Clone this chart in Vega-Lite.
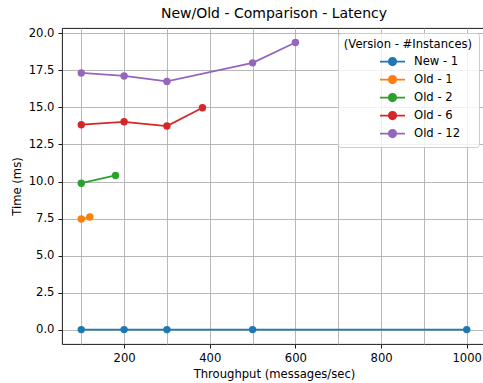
{
  "$schema": "https://vega.github.io/schema/vega-lite/v6.json",
  "width": 424,
  "height": 316,
  "autosize": {"type": "none"},
  "padding": {"left": 62, "top": 28, "right": 0, "bottom": 39},
  "config": {
    "font": "DejaVu Sans",
    "view": {"stroke": "black", "strokeWidth": 0.9},
    "axis": {
      "domain": false,
      "gridColor": "#b0b0b0",
      "gridWidth": 0.9,
      "gridOpacity": 1,
      "tickColor": "black",
      "tickSize": 4,
      "tickWidth": 0.9,
      "labelFontSize": 11.6,
      "labelColor": "black",
      "labelPadding": 4,
      "titleFontSize": 11.6,
      "titleFontWeight": "normal",
      "titleColor": "black"
    }
  },
  "title": {
    "text": "New/Old - Comparison - Latency",
    "fontSize": 14,
    "fontWeight": "normal",
    "color": "black",
    "anchor": "middle",
    "offset": 6
  },
  "data": {
    "values": [
      {"series": "New - 1", "x": 100, "y": 0.02},
      {"series": "New - 1", "x": 200, "y": 0.02},
      {"series": "New - 1", "x": 300, "y": 0.02},
      {"series": "New - 1", "x": 500, "y": 0.02},
      {"series": "New - 1", "x": 1000, "y": 0.02},
      {"series": "Old - 1", "x": 100, "y": 7.48},
      {"series": "Old - 1", "x": 120, "y": 7.61},
      {"series": "Old - 2", "x": 100, "y": 9.89},
      {"series": "Old - 2", "x": 180, "y": 10.41},
      {"series": "Old - 6", "x": 100, "y": 13.83},
      {"series": "Old - 6", "x": 200, "y": 14.03},
      {"series": "Old - 6", "x": 300, "y": 13.74},
      {"series": "Old - 6", "x": 383, "y": 14.98},
      {"series": "Old - 12", "x": 100, "y": 17.32},
      {"series": "Old - 12", "x": 200, "y": 17.12},
      {"series": "Old - 12", "x": 300, "y": 16.75},
      {"series": "Old - 12", "x": 500, "y": 18.0},
      {"series": "Old - 12", "x": 600, "y": 19.37}
    ]
  },
  "encoding": {
    "x": {
      "field": "x",
      "type": "quantitative",
      "scale": {"domain": [55, 1045], "nice": false, "zero": false},
      "axis": {
        "title": "Throughput (messages/sec)",
        "titlePadding": 5,
        "values": [100, 200, 300, 400, 500, 600, 700, 800, 900, 1000],
        "labelExpr": "datum.value % 200 === 0 ? datum.value : ''",
        "tickOpacity": {"condition": {"test": "datum.value % 200 === 0", "value": 1}, "value": 0}
      }
    },
    "y": {
      "field": "y",
      "type": "quantitative",
      "scale": {"domain": [-0.95, 20.35], "nice": false, "zero": false},
      "axis": {
        "title": "Time (ms)",
        "titlePadding": 6,
        "values": [0, 2.5, 5, 7.5, 10, 12.5, 15, 17.5, 20],
        "format": ".1f"
      }
    },
    "color": {
      "field": "series",
      "type": "nominal",
      "scale": {
        "domain": ["New - 1", "Old - 1", "Old - 2", "Old - 6", "Old - 12"],
        "range": ["#1f77b4", "#ff7f0e", "#2ca02c", "#d62728", "#9467bd"]
      },
      "legend": {
        "orient": "none",
        "legendX": 276,
        "legendY": 5,
        "title": "(Version - #Instances)",
        "titleFontSize": 11.6,
        "titleFontWeight": "normal",
        "titleColor": "black",
        "titleAnchor": "middle",
        "titlePadding": 5,
        "labelFontSize": 11.6,
        "labelColor": "black",
        "fillColor": "rgba(255,255,255,0.8)",
        "strokeColor": "#cccccc",
        "cornerRadius": 3,
        "padding": 6,
        "rowPadding": 2,
        "symbolType": "M3.8,0L8.8,0M7.05,0A0.75,0.75 0 1 1 5.55,0A0.75,0.75 0 1 1 7.05,0Z",
        "symbolSize": 100,
        "symbolStrokeWidth": 1.7,
        "labelOffset": 47,
        "encode": {
          "symbols": {
            "update": {
              "fill": {"scale": "color", "field": "value"},
              "stroke": {"scale": "color", "field": "value"},
              "opacity": {"value": 1},
              "fillOpacity": {"value": 1},
              "strokeOpacity": {"value": 1}
            }
          }
        }
      }
    }
  },
  "layer": [
    {"mark": {"type": "line", "strokeWidth": 1.75}},
    {"mark": {"type": "point", "filled": true, "size": 55, "opacity": 1}}
  ]
}
